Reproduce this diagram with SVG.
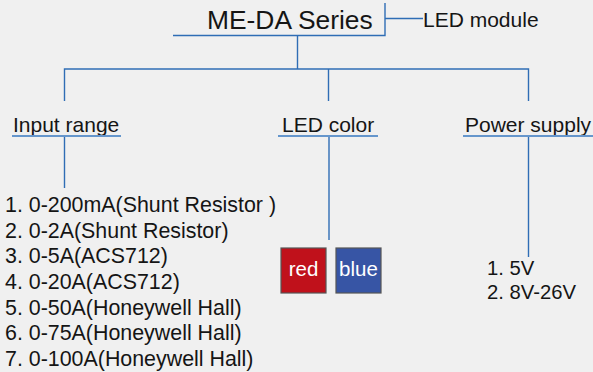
<svg xmlns="http://www.w3.org/2000/svg" width="593" height="372" viewBox="0 0 593 372">
<style>
text{font-family:"Liberation Sans",Arial,sans-serif;fill:#151515}
.ln{stroke:#2f6db5;stroke-width:1.4;fill:none}
.ul{stroke:#6596cc;stroke-width:2;fill:none}
.h{font-size:21px}
.li{font-size:21.4px}
.box{stroke:#555;stroke-width:1.2}
.bt{font-size:20.5px;fill:#fff;text-anchor:middle}
</style>
<rect width="593" height="372" fill="#f0f0f0"/>
<g id="connectors">
<path class="ln" d="M173 35.5H385V3M385 18.5H423"/>
<path class="ln" d="M297.5 35.5V69M64.5 101V69H528.5V101M328.5 69V101"/>
<path class="ln" d="M64.5 136V188M329 136V240M528.5 136V257"/>
</g>
<g id="title">
<text x="207" y="29" style="font-size:26.4px">ME-DA Series</text>
</g>
<g id="led-module">
<text x="423" y="27" class="h">LED module</text>
</g>
<g id="input-range">
<text x="13" y="132" class="h">Input range</text>
<path class="ul" d="M12 136H121"/>
</g>
<g id="led-color">
<text x="282" y="132" class="h">LED color</text>
<path class="ul" d="M278 136H378"/>
</g>
<g id="power-supply">
<text x="465" y="132" class="h">Power supply</text>
<path class="ul" d="M463 136H593"/>
</g>
<g id="input-list">
<text x="5" y="212" class="li">1. 0-200mA(Shunt Resistor )</text>
<text x="5" y="237.5" class="li">2. 0-2A(Shunt Resistor)</text>
<text x="5" y="263" class="li">3. 0-5A(ACS712)</text>
<text x="5" y="289" class="li">4. 0-20A(ACS712)</text>
<text x="5" y="314.5" class="li">5. 0-50A(Honeywell Hall)</text>
<text x="5" y="340" class="li">6. 0-75A(Honeywell Hall)</text>
<text x="5" y="365.5" class="li">7. 0-100A(Honeywell Hall)</text>
</g>
<g id="red">
<rect class="box" x="281" y="248" width="45" height="45" fill="#c0111b"/>
<text x="303.5" y="276" class="bt">red</text>
</g>
<g id="blue">
<rect class="box" x="336" y="248" width="45" height="45" fill="#3755a5"/>
<text x="358.5" y="276" class="bt">blue</text>
</g>
<g id="power-list">
<text x="487" y="275" style="font-size:20.3px">1. 5V</text>
<text x="487" y="299" style="font-size:20.3px">2. 8V-26V</text>
</g>
</svg>
